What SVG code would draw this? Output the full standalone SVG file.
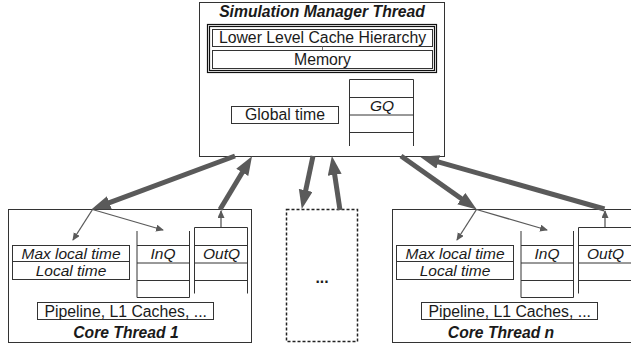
<svg xmlns="http://www.w3.org/2000/svg" width="631" height="345" viewBox="0 0 631 345">
<style>
  text{font-family:"Liberation Sans",Arial,sans-serif;font-size:15.8px;fill:#1a1a1a;text-anchor:middle}
  .bi{font-weight:bold;font-style:italic;font-size:15.7px}
  .it{font-style:italic;font-size:15.5px}
  .box{fill:#fff;stroke:#333;stroke-width:1}
  .ln{fill:none;stroke:#333;stroke-width:1}
  .dbl{fill:none;stroke:#111;stroke-width:1.2}
  .thick{fill:none;stroke:#5a5a5a;stroke-width:5}
  .thin{fill:none;stroke:#5a5a5a;stroke-width:1.3}
</style>
<defs>
  <marker id="big" markerUnits="userSpaceOnUse" markerWidth="22" markerHeight="16" refX="2" refY="7" orient="auto">
    <path d="M0,0 L19,7 L0,14 z" fill="#5a5a5a"/>
  </marker>
  <marker id="small" markerUnits="userSpaceOnUse" markerWidth="10" markerHeight="8" refX="7" refY="3.5" orient="auto">
    <path d="M0,0 L8,3.5 L0,7 z" fill="#5a5a5a"/>
  </marker>
</defs>
<rect width="631" height="345" fill="#fff"/>

<g id="manager">
  <rect class="box" x="199.5" y="2.5" width="245" height="154"/>
  <text class="bi" x="322" y="16.5">Simulation Manager Thread</text>
  <rect class="dbl" x="207.5" y="24.5" width="229" height="48"/>
  <rect class="dbl" x="209.5" y="26.5" width="225" height="44"/>
  <rect class="box" x="212.5" y="29.5" width="220" height="17"/>
  <text x="322.5" y="43">Lower Level Cache Hierarchy</text>
  <line x1="322.5" y1="46.5" x2="322.5" y2="50.5" stroke="#777" stroke-width="1"/>
  <rect class="box" x="212.5" y="50.5" width="220" height="18"/>
  <text x="322.5" y="65">Memory</text>
  <rect class="box" x="231.5" y="106.5" width="107" height="17"/>
  <text x="285" y="120">Global time</text>
  <path class="ln" d="M349.5,146 V79.5 H413.5 V146 M349.5,97.5 H413.5 M349.5,115 H413.5 M349.5,132.5 H413.5"/>
  <text class="it" x="382" y="111">GQ</text>
</g>

<g id="core1">
  <rect class="box" x="8.5" y="209.5" width="243" height="133"/>
  <rect class="box" x="12.5" y="245.5" width="117" height="16"/>
  <text class="it" x="71" y="259">Max local time</text>
  <rect class="box" x="12.5" y="261.5" width="117" height="18"/>
  <text class="it" x="71" y="276">Local time</text>
  <path class="ln" d="M137,231 V297.5 H189.5 V231 M137,245.5 H189.5 M137,263 H189.5 M137,280.5 H189.5"/>
  <text class="it" x="163" y="259">InQ</text>
  <path class="ln" d="M194.5,293.5 V227.5 H247.5 V293.5 M194.5,245.5 H247.5 M194.5,263 H247.5 M194.5,280.5 H247.5"/>
  <text class="it" x="221.5" y="259">OutQ</text>
  <rect class="box" x="37.5" y="302.5" width="176" height="17"/>
  <text x="125.7" y="316.5">Pipeline, L1 Caches, ...</text>
  <text class="bi" x="126" y="338">Core Thread 1</text>
</g>

<g id="others">
  <rect x="286.5" y="209.5" width="71" height="132" fill="#fff" stroke="#222" stroke-width="1.5" stroke-dasharray="3,2"/>
  <text x="322" y="283" style="font-weight:bold">...</text>
</g>

<g id="coren">
  <rect class="box" x="392.5" y="209.5" width="243" height="133"/>
  <rect class="box" x="396.5" y="245.5" width="117" height="16"/>
  <text class="it" x="455" y="259">Max local time</text>
  <rect class="box" x="396.5" y="261.5" width="117" height="18"/>
  <text class="it" x="455" y="276">Local time</text>
  <path class="ln" d="M521,231 V297.5 H573.5 V231 M521,245.5 H573.5 M521,263 H573.5 M521,280.5 H573.5"/>
  <text class="it" x="547" y="259">InQ</text>
  <path class="ln" d="M578.5,293.5 V227.5 H631.5 V293.5 M578.5,245.5 H631.5 M578.5,263 H631.5 M578.5,280.5 H631.5"/>
  <text class="it" x="605.5" y="259">OutQ</text>
  <rect class="box" x="421.5" y="302.5" width="176" height="17"/>
  <text x="509.7" y="316.5">Pipeline, L1 Caches, ...</text>
  <text class="bi" x="501" y="338">Core Thread n</text>
</g>

<g id="connectors">
  <line class="thick" x1="235" y1="156" x2="107.5" y2="203.4" marker-end="url(#big)"/>
  <line class="thick" x1="220" y1="209.5" x2="243.3" y2="170.7" marker-end="url(#big)"/>
  <line class="thick" x1="313" y1="156" x2="305.3" y2="192.3" marker-end="url(#big)"/>
  <line class="thick" x1="340" y1="210" x2="334.4" y2="172.8" marker-end="url(#big)"/>
  <line class="thick" x1="401" y1="156" x2="462.9" y2="199.8" marker-end="url(#big)"/>
  <line class="thick" x1="604.5" y1="209" x2="436.4" y2="161.4" marker-end="url(#big)"/>
  <line class="thin" x1="92.5" y1="209.5" x2="73" y2="240" marker-end="url(#small)"/>
  <line class="thin" x1="92.5" y1="209.5" x2="163" y2="230" marker-end="url(#small)"/>
  <line class="thin" x1="221" y1="227" x2="221" y2="211" marker-end="url(#small)"/>
  <line class="thin" x1="476.5" y1="209.5" x2="457" y2="240" marker-end="url(#small)"/>
  <line class="thin" x1="476.5" y1="209.5" x2="547" y2="230" marker-end="url(#small)"/>
  <line class="thin" x1="605" y1="227" x2="605" y2="211" marker-end="url(#small)"/>
</g>
</svg>
